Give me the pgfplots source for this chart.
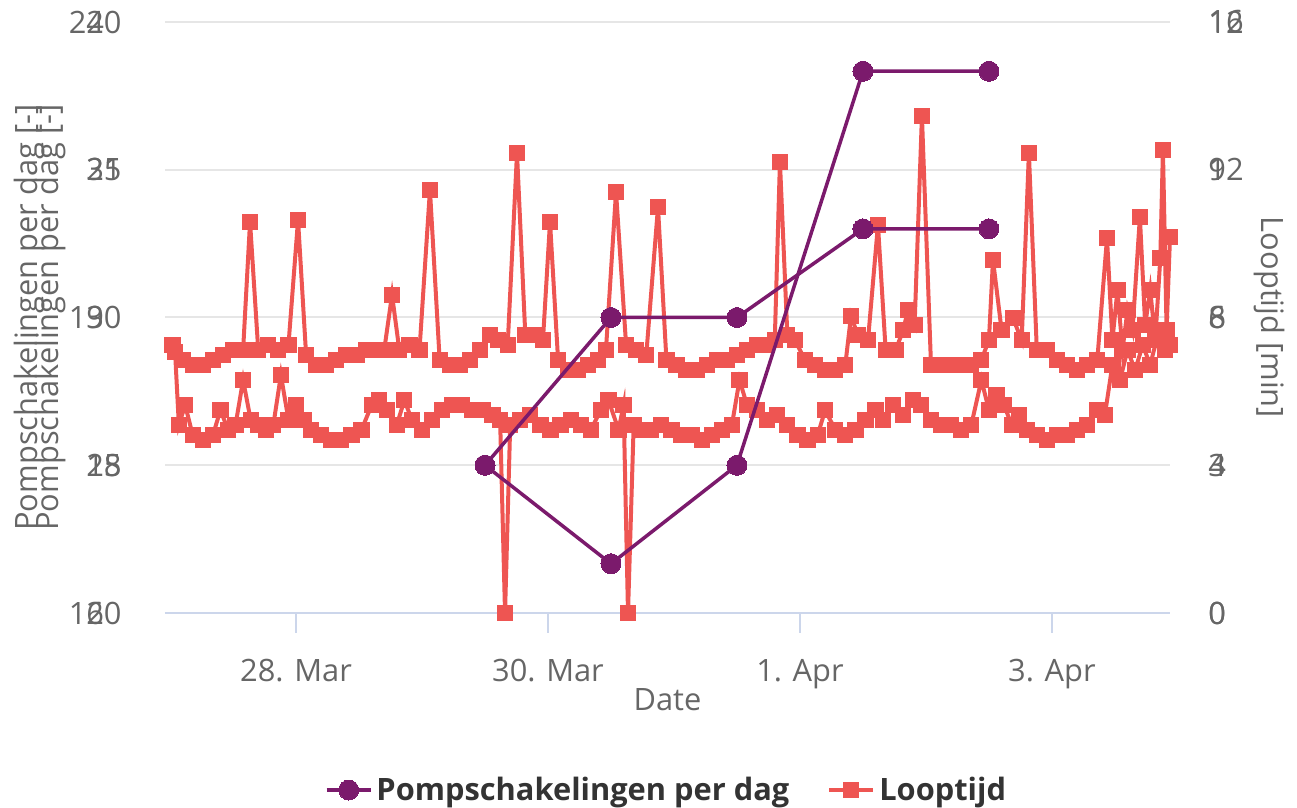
\documentclass[border=0pt]{standalone}
\usepackage{fontspec}
\setmainfont{Open Sans}
\usepackage{pgfplots}
\pgfplotsset{compat=1.18}
\definecolor{pomp}{HTML}{7B1A6C}
\definecolor{loop}{HTML}{EE5552}
\definecolor{txt}{HTML}{666666}
\definecolor{gridc}{HTML}{E6E6E6}
\definecolor{axl}{HTML}{CCD6EB}
\definecolor{leg}{HTML}{333333}
\pgfplotsset{
  base/.style={
    scale only axis, width=502.5pt, height=295.5pt,
    at={(0,0)}, anchor=south west,
    xmin=-1.04, xmax=6.937, clip=false,
    /pgf/number format/assume math mode=true,
    tick label style={font=\fontsize{15.4}{18}\selectfont, text=txt},
    label style={font=\fontsize{15.4}{18}\selectfont, text=txt},
  },
  lefty/.style={
    axis y line*=left, hide x axis, y axis line style={draw=none},
    ytick style={draw=none},
    yticklabel style={anchor=east, inner sep=0pt, xshift=-21.5pt},
  },
  righty/.style={
    axis y line*=right, hide x axis, y axis line style={draw=none},
    ytick style={draw=none}, yticklabel pos=right,
    yticklabel style={anchor=west, inner sep=0pt, xshift=19pt},
  },
  pompst/.style={color=pomp, line width=1.75pt, mark=*, mark size=5pt, mark options={fill=pomp, draw=pomp, line width=0pt}},
  loopst/.style={color=loop, line width=2pt, mark=square*, mark size=3.8pt, mark options={fill=loop, draw=loop, line width=0pt}},
}
\begin{document}
\begin{tikzpicture}
\path[use as bounding box] (-82.5pt,-97.5pt) rectangle (566pt,306.5pt);
% ---------- right axis (0..12) with red series, grid, x axis ----------
\begin{axis}[base,
  ymin=0, ymax=12, ytick={0,3,6,9,12},
  axis x line*=bottom, axis y line*=right,
  x axis line style={draw=axl, line width=1pt, -},
  y axis line style={draw=none}, ytick style={draw=none},
  yticklabel pos=right,
  yticklabel style={anchor=west, inner sep=0pt, xshift=19pt},
  ymajorgrids, grid style={draw=gridc, line width=1pt},
  xtick={0,2,4,6}, xticklabels={28. Mar,30. Mar,1. Apr,3. Apr},
  xtick align=outside, major tick length=10pt,
  xtick style={draw=axl, line width=1pt},
  xticklabel style={anchor=base, inner sep=0pt, yshift=-24.5pt},
  xlabel={Date},
  xlabel style={at={(axis description cs:0.5,-0.1472)}, anchor=center, inner sep=0pt},
  ylabel={Looptijd [min]},
  ylabel style={at={(axis description cs:1.0995,0.5)}, anchor=center, rotate=180, inner sep=0pt},
]
\addplot[loopst] coordinates {
(-0.98,5.44) (-0.90,5.14) (-0.82,5.04) (-0.74,5.04) (-0.66,5.14) (-0.58,5.24) (-0.50,5.34) (-0.42,5.34)
(-0.365,7.94) (-0.30,5.34) (-0.22,5.44) (-0.14,5.34) (-0.06,5.44) (0.016,7.98) (0.08,5.24) (0.16,5.04)
(0.24,5.04) (0.32,5.14) (0.40,5.24) (0.48,5.24) (0.56,5.34) (0.64,5.34) (0.70,5.34) (0.762,6.46)
(0.82,5.34) (0.90,5.44) (0.98,5.34) (1.063,8.59) (1.14,5.14) (1.22,5.04) (1.30,5.04) (1.38,5.14)
(1.46,5.34) (1.54,5.64) (1.60,5.54) (1.68,5.44) (1.754,9.34) (1.82,5.64) (1.90,5.64) (1.96,5.54)
(2.016,7.94) (2.08,5.14) (2.16,4.93) (2.24,4.93) (2.32,5.04) (2.40,5.14) (2.46,5.34) (2.540,8.55)
(2.62,5.44) (2.70,5.34) (2.78,5.24) (2.873,8.24) (2.94,5.14) (3.02,5.04) (3.10,4.93) (3.18,4.93)
(3.26,5.04) (3.34,5.14) (3.42,5.14) (3.50,5.24) (3.58,5.34) (3.66,5.44) (3.74,5.44) (3.80,5.54)
(3.841,9.16) (3.90,5.64) (3.96,5.54) (4.04,5.14) (4.12,5.04) (4.20,4.93) (4.28,4.93) (4.36,5.04)
(4.405,6.03) (4.46,5.64) (4.54,5.54) (4.619,7.88) (4.68,5.34) (4.76,5.34) (4.82,5.75) (4.857,6.15)
(4.91,5.85) (4.968,10.09) (5.04,5.04) (5.12,5.04) (5.20,5.04) (5.28,5.04) (5.36,5.04) (5.44,5.14)
(5.50,5.54) (5.532,7.17) (5.60,5.75) (5.690,5.99) (5.76,5.54) (5.817,9.34) (5.88,5.34) (5.96,5.34)
(6.04,5.14) (6.12,5.04) (6.20,4.93) (6.28,5.04) (6.36,5.14) (6.437,7.61) (6.48,5.54) (6.52,6.56)
(6.56,5.34) (6.60,6.15) (6.64,5.75) (6.698,8.04) (6.74,5.85) (6.78,6.56) (6.82,5.54) (6.86,7.20)
(6.881,9.40) (6.91,5.75) (6.937,7.63)
};
\addplot[loopst] coordinates {
(-0.96,5.30) (-0.93,3.82) (-0.88,4.22) (-0.82,3.61) (-0.74,3.51) (-0.66,3.61) (-0.60,4.12) (-0.54,3.72)
(-0.48,3.82) (-0.42,4.73) (-0.36,3.92) (-0.30,3.82) (-0.24,3.72) (-0.18,3.82) (-0.12,4.83) (-0.06,3.92)
(0.00,4.22) (0.06,3.92) (0.12,3.72) (0.20,3.61) (0.28,3.51) (0.36,3.51) (0.44,3.61) (0.52,3.72)
(0.60,4.22) (0.66,4.32) (0.72,4.12) (0.80,3.82) (0.86,4.32) (0.92,3.92) (1.00,3.72) (1.08,3.92)
(1.16,4.12) (1.24,4.22) (1.32,4.22) (1.40,4.12) (1.48,4.12) (1.56,4.02) (1.62,3.92) (1.659,0)
(1.70,3.82) (1.78,3.92) (1.86,4.02) (1.94,3.82) (2.02,3.72) (2.10,3.82) (2.18,3.92) (2.26,3.82)
(2.34,3.72) (2.42,4.12) (2.48,4.32) (2.56,3.72) (2.60,4.22) (2.635,0) (2.68,3.82) (2.74,3.72)
(2.82,3.72) (2.90,3.82) (2.98,3.72) (3.06,3.61) (3.14,3.61) (3.22,3.51) (3.30,3.61) (3.38,3.72)
(3.46,3.82) (3.52,4.73) (3.58,4.22) (3.66,4.12) (3.74,3.92) (3.82,4.02) (3.90,3.82) (3.98,3.61)
(4.06,3.51) (4.14,3.61) (4.20,4.12) (4.28,3.72) (4.36,3.61) (4.44,3.72) (4.52,3.92) (4.60,4.12)
(4.66,3.92) (4.74,4.22) (4.82,4.02) (4.90,4.32) (4.96,4.22) (5.04,3.92) (5.12,3.82) (5.20,3.82)
(5.28,3.72) (5.36,3.82) (5.44,4.73) (5.50,4.12) (5.56,4.43) (5.62,4.22) (5.68,3.82) (5.74,4.02)
(5.80,3.72) (5.88,3.61) (5.96,3.51) (6.04,3.61) (6.12,3.61) (6.20,3.72) (6.28,3.82) (6.36,4.12)
(6.42,4.02) (6.48,5.04) (6.54,4.73) (6.60,5.34) (6.66,4.93) (6.72,5.44) (6.78,5.04) (6.84,5.64)
(6.90,5.34) (6.937,5.44)
};
\end{axis}
% ---------- right axis (0..16) labels only ----------
\begin{axis}[base, righty, ymin=0, ymax=16, ytick={0,4,8,12,16}]
\end{axis}
% ---------- left axis A ----------
\begin{axis}[base, lefty, ymin=16, ymax=22, ytick={16,17.5,19,20.5,22},
  yticklabels={16\phantom{0},18,19\phantom{0},21,22\phantom{0}},
  ylabel={Pompschakelingen per dag [-]},
  ylabel style={at={(axis description cs:-0.1353,0.5)}, anchor=center, inner sep=0pt},
]
\addplot[pompst] coordinates {(1.5,17.5) (2.5,16.5) (3.5,17.5) (4.5,21.5) (5.5,21.5)};
\end{axis}
% ---------- left axis B ----------
\begin{axis}[base, lefty, ymin=20, ymax=40, ytick={20,25,30,35,40},
  ylabel={Pompschakelingen per dag [-]},
  ylabel style={at={(axis description cs:-0.1144,0.5)}, anchor=center, inner sep=0pt},
  legend columns=2,
  legend style={at={(axis description cs:0.5,-0.2995)}, anchor=center, draw=none, fill=none,
    font=\fontsize{15.4}{18}\selectfont\bfseries, text=leg,
    nodes={inner sep=2pt},
    /tikz/every even column/.append style={column sep=17pt}},
  legend image code/.code={\draw[mark repeat=2,mark phase=2,#1] plot coordinates {(0pt,0pt) (11pt,0pt) (22pt,0pt)};},
]
\addplot[pompst, forget plot] coordinates {(1.5,25) (2.5,30) (3.5,30) (4.5,33) (5.5,33)};
\addlegendimage{pompst}
\addlegendentry{Pompschakelingen per dag}
\addlegendimage{loopst}
\addlegendentry{Looptijd}
\end{axis}
\end{tikzpicture}
\end{document}
